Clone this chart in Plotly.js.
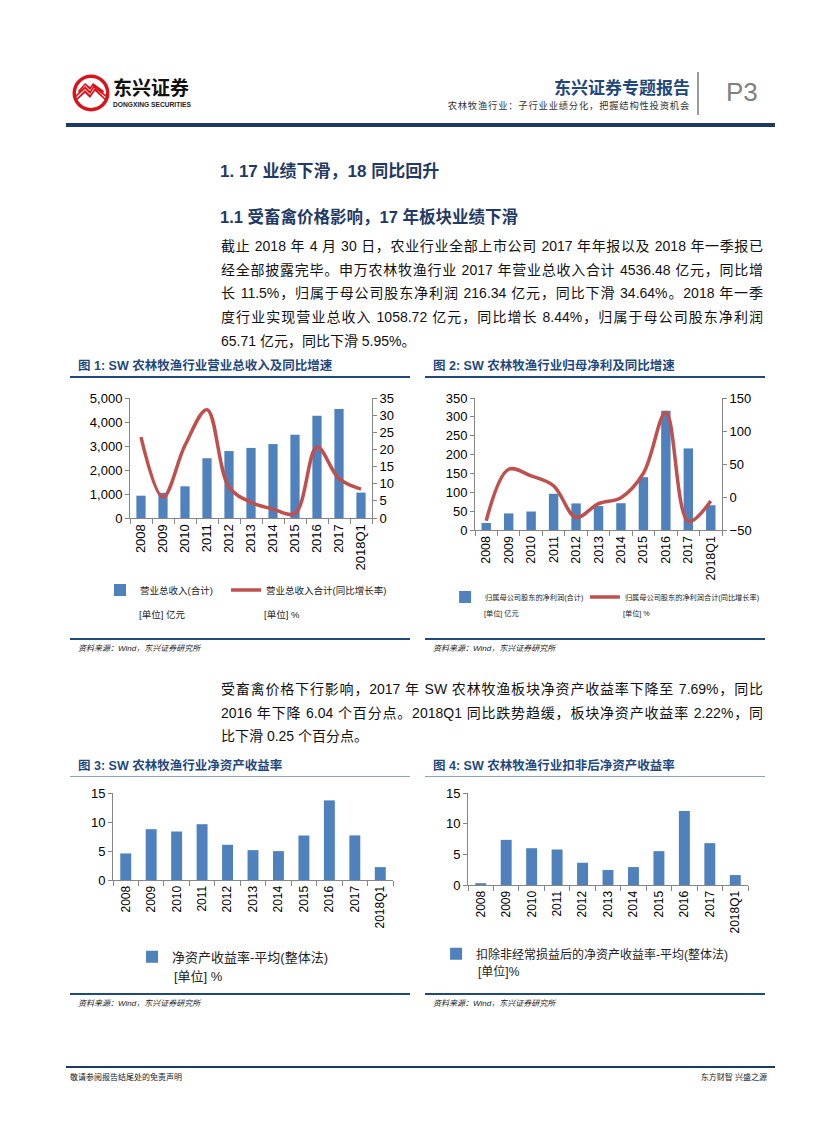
<!DOCTYPE html>
<html><head><meta charset="utf-8">
<script src="https://cdn.plot.ly/plotly-3.0.1.min.js"></script>
<style>
body{margin:0;background:#fff;}
#page{position:relative;width:827px;height:1122px;overflow:hidden;background:#fff;font-family:"Liberation Sans","Noto Sans CJK SC",sans-serif;color:#111;}
.abs{position:absolute;white-space:nowrap;}
.para{position:absolute;left:221px;width:542px;font-size:14px;color:#111;}
.para div{height:23.7px;line-height:23.7px;text-align:justify;text-align-last:justify;}
.para div.last{text-align-last:left;}
.ctitle{position:absolute;font-size:12.5px;font-weight:bold;color:#1F497D;white-space:nowrap;line-height:16px;}
.rule{position:absolute;background:#1F497D;}
.src{position:absolute;font-size:8px;font-style:italic;color:#222;white-space:nowrap;line-height:10px;}
.chart{position:absolute;}
</style></head>
<body><div id="page">

<!-- header -->
<svg class="abs" style="left:70px;top:73px" width="42" height="40" viewBox="0 0 42 40">
  <circle cx="21" cy="20" r="18.5" fill="#D7141A"/>
  <circle cx="21" cy="20" r="15" fill="#fff"/>
  <path d="M5,27 L15,17 L20,22 L25,15 L37,27 L37,29 L25,18 L20,25 L15,20 L5,29Z" fill="#D7141A"/>
  <path d="M6,22 L15,13 L20,18 L24,12 L36,22 L36,24 L24,15 L20,21 L15,16 L6,24Z" fill="#D7141A"/>
  <path d="M8,18 L15,10 L20,14 L23,10 L34,18 L33,20 L23,13 L20,17 L15,12 L9,20Z" fill="#D7141A"/>
</svg>
<div class="abs" style="left:113px;top:77px;font-size:19px;font-weight:bold;color:#111;line-height:19px;height:19px;font-family:'Noto Sans CJK SC';">东兴证券</div>
<svg class="abs" style="left:113px;top:100px" width="82" height="8"><text x="0" y="6.5" font-size="6.3" font-weight="bold" font-family="Liberation Sans" textLength="78" lengthAdjust="spacingAndGlyphs" fill="#222">DONGXING SECURITIES</text></svg>
<div class="abs" style="right:137px;top:78px;font-size:17px;font-weight:bold;color:#1F497D;line-height:17px;height:17px;font-family:'Noto Sans CJK SC';">东兴证券专题报告</div>
<div class="abs" style="right:137px;top:100px;font-size:9.3px;color:#333;line-height:10px;height:10px;letter-spacing:0.8px;font-family:'Noto Sans CJK SC';">农林牧渔行业：子行业业绩分化，把握结构性投资机会</div>
<div class="abs" style="left:697px;top:72px;width:1.5px;height:43px;background:#9a9a9a;"></div>
<div class="abs" style="left:726px;top:77px;font-size:26px;color:#808080;line-height:30px;font-family:'Liberation Sans Narrow','Liberation Sans';">P3</div>
<div class="abs" style="left:66px;top:123px;width:709px;height:4px;background:#1F3A60;"></div>

<!-- headings -->
<div class="abs" style="left:220px;top:160px;font-size:17px;font-weight:bold;color:#1F3A64;line-height:24px;">1. 17 业绩下滑，18 同比回升</div>
<div class="abs" style="left:220px;top:206px;font-size:16.5px;font-weight:bold;color:#1F3A64;line-height:22px;">1.1 受畜禽价格影响，17 年板块业绩下滑</div>

<div class="para" style="top:235px;">
<div>截止 2018 年 4 月 30 日，农业行业全部上市公司 2017 年年报以及 2018 年一季报已</div>
<div>经全部披露完毕。申万农林牧渔行业 2017 年营业总收入合计 4536.48 亿元，同比增</div>
<div>长 11.5%，归属于母公司股东净利润 216.34 亿元，同比下滑 34.64%。2018 年一季</div>
<div>度行业实现营业总收入 1058.72 亿元，同比增长 8.44%，归属于母公司股东净利润</div>
<div class="last">65.71 亿元，同比下滑 5.95%。</div>
</div>

<!-- chart 1/2 frames -->
<div class="ctitle" style="left:78px;top:358px;">图 1: SW 农林牧渔行业营业总收入及同比增速</div>
<div class="rule" style="left:70px;top:376px;width:340px;height:1.5px;"></div>
<div class="ctitle" style="left:433px;top:358px;">图 2: SW 农林牧渔行业归母净利及同比增速</div>
<div class="rule" style="left:425px;top:376px;width:340px;height:1.5px;"></div>
<div id="c1" class="chart" style="left:60px;top:385px;width:360px;height:250px;"></div>
<div id="c2" class="chart" style="left:420px;top:385px;width:360px;height:250px;"></div>
<div class="rule" style="left:70px;top:638px;width:340px;height:1.5px;"></div>
<div class="rule" style="left:425px;top:638px;width:340px;height:1.5px;"></div>
<div class="src" style="left:78px;top:644px;">资料来源：Wind，东兴证券研究所</div>
<div class="src" style="left:433px;top:644px;">资料来源：Wind，东兴证券研究所</div>

<div class="para" style="top:678px;">
<div>受畜禽价格下行影响，2017 年 SW 农林牧渔板块净资产收益率下降至 7.69%，同比</div>
<div>2016 年下降 6.04 个百分点。2018Q1 同比跌势趋缓，板块净资产收益率 2.22%，同</div>
<div class="last">比下滑 0.25 个百分点。</div>
</div>

<!-- chart 3/4 frames -->
<div class="ctitle" style="left:78px;top:758px;">图 3: SW 农林牧渔行业净资产收益率</div>
<div class="rule" style="left:70px;top:776px;width:340px;height:1px;background:#8ea3c0;"></div>
<div class="ctitle" style="left:433px;top:758px;">图 4: SW 农林牧渔行业扣非后净资产收益率</div>
<div class="rule" style="left:425px;top:776px;width:340px;height:1px;background:#8ea3c0;"></div>
<div id="c3" class="chart" style="left:60px;top:780px;width:360px;height:210px;"></div>
<div id="c4" class="chart" style="left:420px;top:780px;width:360px;height:210px;"></div>
<div class="rule" style="left:70px;top:993px;width:340px;height:1.5px;"></div>
<div class="rule" style="left:425px;top:993px;width:340px;height:1.5px;"></div>
<div class="src" style="left:78px;top:999px;">资料来源：Wind，东兴证券研究所</div>
<div class="src" style="left:433px;top:999px;">资料来源：Wind，东兴证券研究所</div>

<!-- footer -->
<div class="abs" style="left:66px;top:1066px;width:709px;height:2px;background:#1F3A60;"></div>
<div class="src" style="left:70px;top:1073px;font-style:normal;">敬请参阅报告结尾处的免责声明</div>
<div class="src" style="right:60px;top:1073px;font-style:normal;">东方财智 兴盛之源</div>

</div>
<script>
// ---- data ----
const categories = ['2008','2009','2010','2011','2012','2013','2014','2015','2016','2017','2018Q1'];
const revenue = [930, 1050, 1320, 2490, 2790, 2920, 3080, 3470, 4260, 4536.48, 1058.72];
const revenueYoY = [23.6, 6.1, 21.2, 31.6, 9.0, 4.6, 2.6, 1.3, 20.7, 11.5, 8.44];
const netProfit = [18.5, 44, 49, 96, 70.5, 63.5, 71, 140, 316, 216.34, 65.71];
const netProfitYoY = [-36, 42, 32, 17, -31, -10, -1, 36, 128, -37, -5.95];
const roe = [4.58, 8.76, 8.36, 9.62, 6.07, 5.15, 4.98, 7.67, 13.73, 7.69, 2.22];
const roeDeducted = [0.3, 7.36, 6.0, 5.79, 3.63, 2.44, 2.92, 5.52, 12.07, 6.82, 1.62];

const FONT = 'Liberation Sans, "Noto Sans CJK SC", sans-serif';
const BLUE = '#4F81BD', RED = '#C0504D', AX = '#868686';
const cfg = {staticPlot:true, displayModeBar:false};

function xAxis(size){
  return {type:'category', tickangle:-90, tickfont:{size:size, color:'#000'},
    showline:true, linecolor:AX, linewidth:1, ticks:'outside', tickson:'boundaries',
    ticklen:5, tickcolor:AX, showgrid:false, zeroline:false, range:[-0.5,10.5]};
}
function yAxis(range, dtick, size, extra){
  return Object.assign({range:range, dtick:dtick, tickfont:{size:size,color:'#000'},
    showline:true, linecolor:AX, linewidth:1, ticks:'outside', ticklen:4, tickcolor:AX,
    showgrid:false, zeroline:false}, extra||{});
}
function unitAnn(text, x, y, size){
  return {text:text, xref:'paper', yref:'paper', x:x, y:y, xanchor:'left', yanchor:'middle',
    showarrow:false, font:{size:size, color:'#222', family:FONT}};
}
function leg(x, y, size){
  return {orientation:'h', x:x, y:y, xanchor:'left', yanchor:'middle', font:{size:size, color:'#222'},
    itemwidth:30, bgcolor:'rgba(0,0,0,0)'};
}

// Chart 1
Plotly.newPlot('c1', [
  {type:'bar', x:categories, y:revenue, name:'营业总收入(合计)', marker:{color:BLUE}, legend:'legend'},
  {type:'scatter', mode:'lines', x:categories, y:revenueYoY, yaxis:'y2', name:'营业总收入合计(同比增长率)',
   line:{color:RED, width:3.5, shape:'spline', smoothing:1}, legend:'legend2'}
], {
  width:360, height:250, margin:{l:70, r:48, t:13, b:117, autoexpand:false},
  paper_bgcolor:'rgba(0,0,0,0)', plot_bgcolor:'rgba(0,0,0,0)', font:{family:FONT},
  bargap:0.58,
  xaxis:xAxis(13),
  yaxis:yAxis([0,5000], 1000, 13, {tickformat:',d'}),
  yaxis2:yAxis([0,35], 5, 13, {overlaying:'y', side:'right'}),
  showlegend:true,
  legend:leg(-0.124, -0.6, 9.5),
  legend2:leg(0.397, -0.6, 9.5),
  annotations:[unitAnn('[单位] 亿元', 0.029, -0.808, 9.5), unitAnn('[单位] %', 0.545, -0.808, 9.5)]
}, cfg);

// Chart 2
Plotly.newPlot('c2', [
  {type:'bar', x:categories, y:netProfit, name:'归属母公司股东的净利润(合计)', marker:{color:BLUE}, legend:'legend'},
  {type:'scatter', mode:'lines', x:categories, y:netProfitYoY, yaxis:'y2', name:'归属母公司股东的净利润合计(同比增长率)',
   line:{color:RED, width:3.5, shape:'spline', smoothing:1}, legend:'legend2'}
], {
  width:360, height:250, margin:{l:55, r:58, t:13, b:105, autoexpand:false},
  paper_bgcolor:'rgba(0,0,0,0)', plot_bgcolor:'rgba(0,0,0,0)', font:{family:FONT},
  bargap:0.58,
  xaxis:xAxis(12.5),
  yaxis:yAxis([0,350], 50, 13),
  yaxis2:yAxis([-50,150], 50, 13, {overlaying:'y', side:'right'}),
  showlegend:true,
  legend:leg(-0.121, -0.508, 7.2),
  legend2:leg(0.445, -0.508, 7.2),
  annotations:[unitAnn('[单位] 亿元', 0.028, -0.636, 7.2), unitAnn('[单位] %', 0.591, -0.636, 7.2)]
}, cfg);

// Chart 3
Plotly.newPlot('c3', [
  {type:'bar', x:categories, y:roe, name:'净资产收益率-平均(整体法)', marker:{color:BLUE}, showlegend:true}
], {
  width:360, height:210, margin:{l:53, r:27, t:13, b:110, autoexpand:false},
  paper_bgcolor:'rgba(0,0,0,0)', plot_bgcolor:'rgba(0,0,0,0)', font:{family:FONT},
  bargap:0.57,
  xaxis:xAxis(12),
  yaxis:yAxis([0,15], 5, 13),
  showlegend:true,
  legend:leg(0.068, -0.882, 13),
  annotations:[unitAnn('[单位] %', 0.211, -1.111, 13)]
}, cfg);

// Chart 4
Plotly.newPlot('c4', [
  {type:'bar', x:categories, y:roeDeducted, name:'扣除非经常损益后的净资产收益率-平均(整体法)', marker:{color:BLUE}, showlegend:true}
], {
  width:360, height:210, margin:{l:48, r:32, t:13, b:105, autoexpand:false},
  paper_bgcolor:'rgba(0,0,0,0)', plot_bgcolor:'rgba(0,0,0,0)', font:{family:FONT},
  bargap:0.57,
  xaxis:xAxis(12),
  yaxis:yAxis([0,15], 5, 13),
  showlegend:true,
  legend:leg(-0.114, -0.748, 12),
  annotations:[unitAnn('[单位]%', 0.029, -0.943, 12)]
}, cfg);
</script>
</body></html>
